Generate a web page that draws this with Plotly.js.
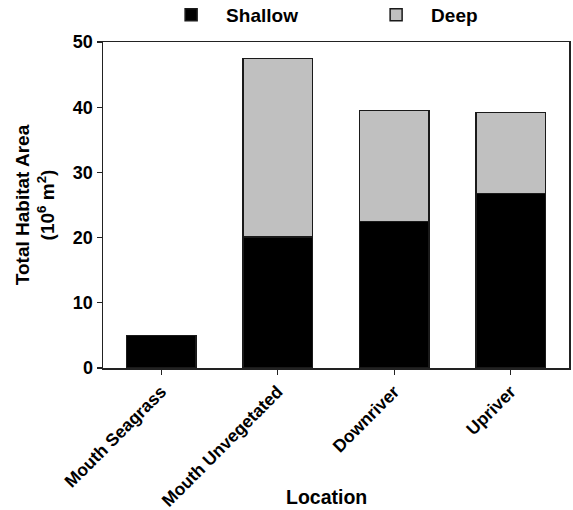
<!DOCTYPE html>
<html>
<head>
<meta charset="utf-8">
<script src="https://cdn.plot.ly/plotly-3.0.1.min.js"></script>
<style>html,body{margin:0;padding:0;background:#fff;}#chart{width:573px;height:510px;}</style>
</head>
<body>
<div id="chart"></div>
<script>
const categories = ["Mouth Seagrass", "Mouth Unvegetated", "Downriver", "Upriver"];
const shallow = [5.0, 20.1, 22.5, 26.8];
const deep = [0, 27.4, 17.0, 12.4];
const yTicks = [0, 10, 20, 30, 40, 50];
const xTitle = "Location";
const yTitle = "Total Habitat Area<br>(10<sup>6</sup> m<sup>2</sup>)";

const FONT = "Liberation Sans, Arial, Helvetica, sans-serif";

const traces = [
  {
    type: "bar", name: "Shallow", x: categories, y: shallow,
    width: 0.6,
    marker: {color: "#000000", line: {color: "#1a1a1a", width: 1.5}}
  },
  {
    type: "bar", name: "Deep", x: categories, y: deep,
    width: 0.6,
    marker: {color: "#c0c0c0", line: {color: "#1a1a1a", width: 1.5}}
  }
];

const layout = {
  width: 573, height: 510,
  margin: {l: 103, r: 4, t: 42, b: 142, autoexpand: false},
  paper_bgcolor: "#fff", plot_bgcolor: "#fff",
  barmode: "stack",
  font: {family: FONT, size: 18, color: "#000", weight: "bold"},
  showlegend: true,
  legend: {
    orientation: "h", x: 0.114, xanchor: "left", y: 1.083, yanchor: "middle",
    bgcolor: "rgba(0,0,0,0)",
    font: {family: FONT, size: 19, color: "#000", weight: "bold"},
    traceorder: "normal", itemwidth: 60, entrywidth: 130, entrywidthmode: "pixels"
  },
  xaxis: {
    type: "category", range: [-0.5, 3.5],
    tickangle: -45,
    tickfont: {family: FONT, size: 17.5, color: "#000", weight: "bold"},
    ticks: "outside", ticklen: 5, tickwidth: 1.2, tickcolor: "#222",
    showline: true, linecolor: "#222", linewidth: 1.5, mirror: true,
    showgrid: false, zeroline: false
  },
  yaxis: {
    range: [0, 50], tickvals: yTicks, ticktext: yTicks.map(String),
    tickfont: {family: FONT, size: 18, color: "#000", weight: "bold"},
    ticks: "outside", ticklen: 5, tickwidth: 1.2, tickcolor: "#222",
    showline: true, linecolor: "#222", linewidth: 1.5, mirror: true,
    showgrid: false, zeroline: false,
    title: {text: yTitle, font: {family: FONT, size: 19, color: "#000", weight: "bold"}, standoff: 13}
  },
  annotations: [
    {
      text: xTitle, xref: "paper", yref: "paper", x: 0.48, y: -0.395,
      xanchor: "center", yanchor: "middle", showarrow: false,
      font: {family: FONT, size: 19.5, color: "#000", weight: "bold"}
    }
  ]
};

Plotly.newPlot("chart", traces, layout, {displayModeBar: false, staticPlot: true});
</script>
</body>
</html>
